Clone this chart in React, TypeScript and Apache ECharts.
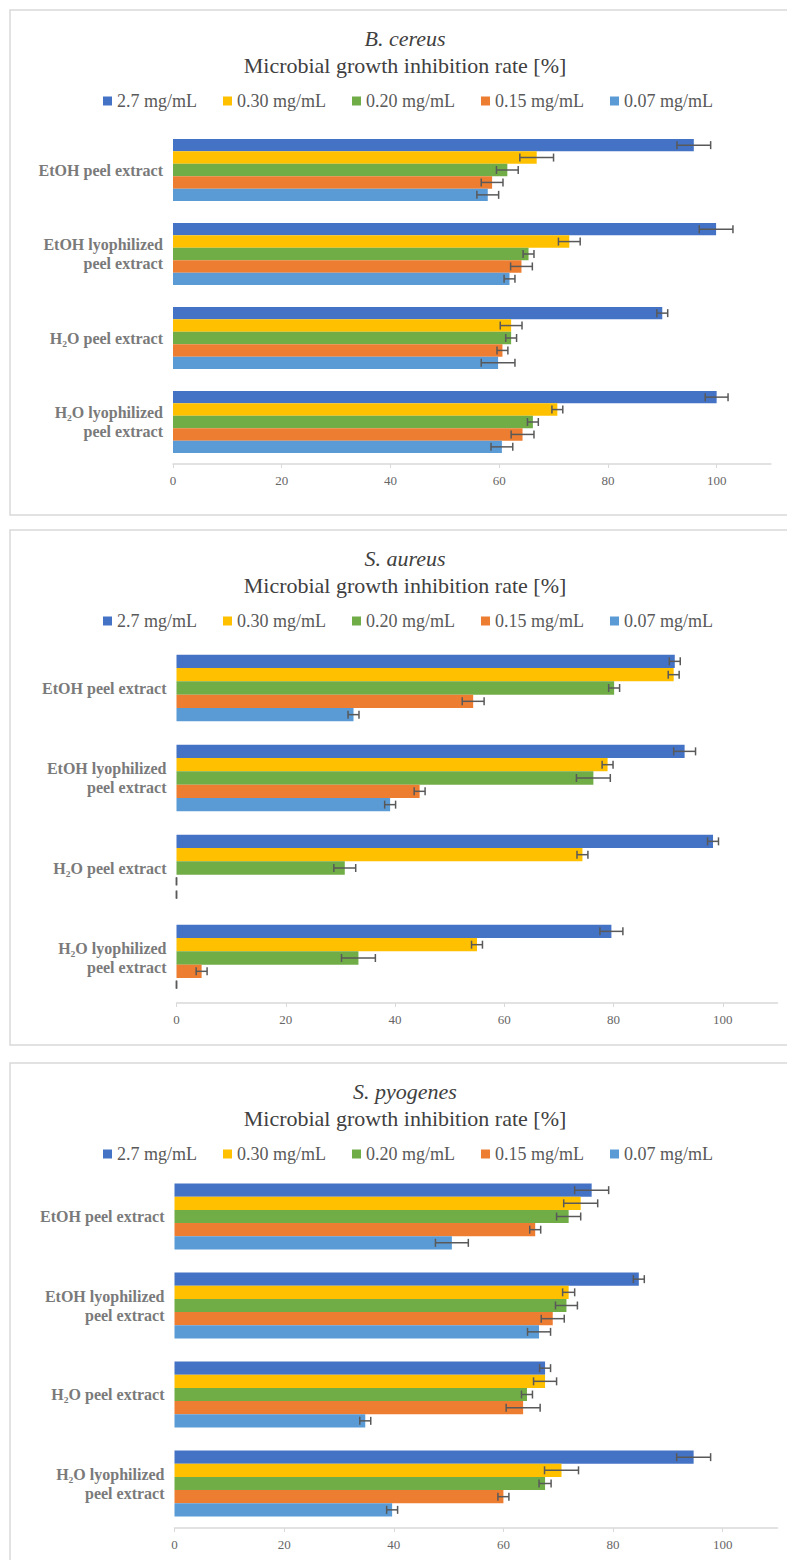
import React, { useEffect, useRef } from "react";
import * as echarts from "echarts";

// Extract types shown on the vertical axis of every panel
const categories = [
  "EtOH peel extract",
  "EtOH lyophilized\npeel extract",
  "H₂O peel extract",
  "H₂O lyophilized\npeel extract",
];

// Tested concentrations (one bar series each)
const concentrations = ["2.7 mg/mL", "0.30 mg/mL", "0.20 mg/mL", "0.15 mg/mL", "0.07 mg/mL"];

// Horizontal axis tick labels
const tickValues = [0, 20, 40, 60, 80, 100];

// Mean inhibition rate [%] — one row per concentration, one column per extract
const cereusMean = [
  [95.8, 99.9, 90.0, 100.0],
  [66.9, 72.9, 62.2, 70.7],
  [61.5, 65.4, 62.2, 66.2],
  [58.7, 64.1, 60.6, 64.3],
  [57.9, 61.9, 59.8, 60.5],
];
const cereusErr = [
  [3.1, 3.1, 1.0, 2.1],
  [3.1, 2.0, 2.0, 1.0],
  [2.0, 1.0, 1.0, 1.0],
  [2.0, 2.0, 1.0, 2.1],
  [2.0, 1.0, 3.1, 2.0],
];

const aureusMean = [
  [91.2, 93.0, 98.2, 79.6],
  [91.0, 78.9, 74.3, 55.0],
  [80.1, 76.3, 30.8, 33.3],
  [54.3, 44.5, 0, 4.6],
  [32.4, 39.1, 0, 0],
];
const aureusErr = [
  [1.0, 2.0, 1.0, 2.1],
  [1.0, 1.0, 1.0, 1.0],
  [1.0, 3.1, 2.0, 3.1],
  [2.0, 1.0, 0, 1.0],
  [1.0, 1.0, 0, 0],
];

const pyogenesMean = [
  [76.1, 84.7, 67.6, 94.7],
  [74.1, 71.9, 67.6, 70.6],
  [71.9, 71.5, 64.3, 67.6],
  [65.8, 69.0, 63.6, 60.0],
  [50.6, 66.5, 34.8, 39.7],
];
const pyogenesErr = [
  [3.1, 1.0, 1.0, 3.1],
  [3.1, 1.1, 2.1, 3.1],
  [2.2, 2.0, 1.0, 1.1],
  [1.0, 2.1, 3.1, 1.0],
  [3.0, 2.1, 1.0, 1.0],
];

const organisms = ["B. cereus", "S. aureus", "S. pyogenes"];

const COLORS = ["#4472C4", "#FFC000", "#70AD47", "#ED7D31", "#5B9BD5"];
const SERIF = '"Liberation Serif", "DejaVu Serif", serif';
const CATEGORY_GAP = 0.26;

// Panel frames and plot areas (pixels)
const panels = [
  { frameTop: 10, frameH: 505, gridLeft: 173, gridW: 598, gridTop: 128, gridH: 336 },
  { frameTop: 530, frameH: 515, gridLeft: 176.5, gridW: 601, gridTop: 643, gridH: 360 },
  { frameTop: 1063, frameH: 600, gridLeft: 174.5, gridW: 603, gridTop: 1172, gridH: 356 },
];

const means = [cereusMean, aureusMean, pyogenesMean];
const errs = [cereusErr, aureusErr, pyogenesErr];

function errorBarRenderer(seriesIdx: number, nSeries: number) {
  return (params: any, api: any) => {
    const mean = api.value(0);
    const err = api.value(1);
    const cat = api.value(2);
    const center = api.coord([mean, cat]);
    const band = api.size([0, 1])[1];
    const groupH = band * (1 - CATEGORY_GAP);
    const barH = groupH / nSeries;
    const y = center[1] - groupH / 2 + barH * (seriesIdx + 0.5);
    const lo = api.coord([mean - err, cat])[0];
    const hi = api.coord([mean + err, cat])[0];
    const cap = 4;
    const style = { stroke: "#595959", lineWidth: 1.5 };
    return {
      type: "group",
      children: [
        { type: "line", shape: { x1: lo, y1: y, x2: hi, y2: y }, style },
        { type: "line", shape: { x1: lo, y1: y - cap, x2: lo, y2: y + cap }, style },
        { type: "line", shape: { x1: hi, y1: y - cap, x2: hi, y2: y + cap }, style },
      ],
    };
  };
}

function buildOption() {
  const grid: any[] = [];
  const xAxis: any[] = [];
  const yAxis: any[] = [];
  const legend: any[] = [];
  const series: any[] = [];
  const graphic: any[] = [];

  panels.forEach((p, pi) => {
    graphic.push({
      type: "rect",
      silent: true,
      shape: { x: 10, y: p.frameTop, width: 800, height: p.frameH },
      style: { fill: "none", stroke: "#d9d9d9", lineWidth: 1.5 },
    });
    graphic.push({
      type: "text",
      x: 405,
      y: p.frameTop + 28,
      style: {
        text: organisms[pi],
        fontFamily: SERIF,
        fontStyle: "italic",
        fontSize: 22,
        fill: "#404040",
        align: "center",
        verticalAlign: "middle",
      },
    });
    graphic.push({
      type: "text",
      x: 405,
      y: p.frameTop + 55,
      style: {
        text: "Microbial growth inhibition rate [%]",
        fontFamily: SERIF,
        fontSize: 22,
        fill: "#404040",
        align: "center",
        verticalAlign: "middle",
      },
    });

    legend.push({
      data: concentrations,
      left: 103,
      top: p.frameTop + 91 - 9,
      padding: 0,
      itemGap: 26,
      itemWidth: 9,
      itemHeight: 9,
      icon: "rect",
      selectedMode: false,
      textStyle: { fontFamily: SERIF, fontSize: 18, color: "#595959" },
    });

    grid.push({ left: p.gridLeft, top: p.gridTop, width: p.gridW, height: p.gridH });

    xAxis.push({
      type: "value",
      gridIndex: pi,
      min: 0,
      max: 110,
      interval: 10,
      axisLine: { show: true, lineStyle: { color: "#d9d9d9", width: 1.5 } },
      axisTick: { show: true, customValues: tickValues, length: 4, lineStyle: { color: "#d9d9d9" } },
      axisLabel: {
        customValues: tickValues,
        fontFamily: SERIF,
        fontSize: 13,
        color: "#666666",
        margin: 10,
      },
      splitLine: { show: false },
    });

    yAxis.push({
      type: "category",
      gridIndex: pi,
      data: categories,
      inverse: true,
      axisLine: { show: false },
      axisTick: { show: false },
      axisLabel: {
        fontFamily: SERIF,
        fontSize: 16,
        fontWeight: "bold",
        color: "#7a7a7a",
        lineHeight: 19,
        margin: 10,
      },
    });

    concentrations.forEach((name, si) => {
      series.push({
        type: "bar",
        name,
        xAxisIndex: pi,
        yAxisIndex: pi,
        data: means[pi][si],
        barGap: "0%",
        barCategoryGap: `${CATEGORY_GAP * 100}%`,
        itemStyle: { color: COLORS[si] },
        silent: true,
      });
    });
    concentrations.forEach((name, si) => {
      series.push({
        type: "custom",
        name: name + " error",
        xAxisIndex: pi,
        yAxisIndex: pi,
        silent: true,
        z: 5,
        renderItem: errorBarRenderer(si, concentrations.length),
        encode: { x: 0, y: 2 },
        data: means[pi][si].map((m, ci) => [m, errs[pi][si][ci], ci]),
      });
    });
  });

  return {
    animation: false,
    backgroundColor: "#ffffff",
    color: COLORS,
    grid,
    xAxis,
    yAxis,
    legend,
    series,
    graphic,
  };
}

export default function App() {
  const ref = useRef<HTMLDivElement>(null);
  useEffect(() => {
    document.body.style.margin = "0";
    if (!ref.current) return;
    const chart = echarts.init(ref.current, null, { renderer: "svg" });
    chart.setOption(buildOption());
    return () => chart.dispose();
  }, []);
  return <div ref={ref} style={{ width: 787, height: 1560 }} />;
}
